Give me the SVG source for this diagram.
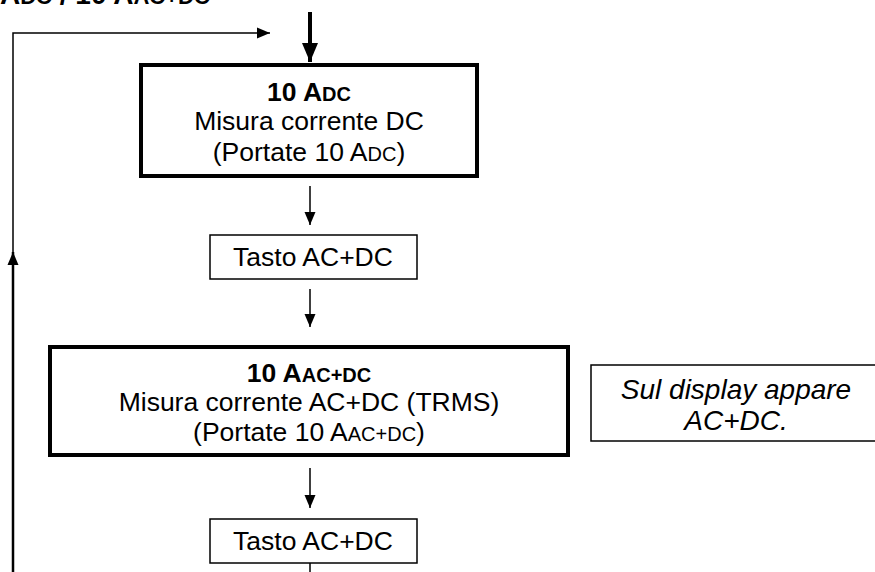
<svg xmlns="http://www.w3.org/2000/svg" width="875" height="572" viewBox="0 0 875 572">
<style>
text{font-family:"Liberation Sans",Arial,sans-serif;fill:#000;text-anchor:middle}
.t{font-size:26.5px}
.b{font-size:26.5px;font-weight:bold}
.i{font-size:28px;font-style:italic}
.sc{font-size:20px}
.thick{fill:#fff;stroke:#000;stroke-width:4}
.thin{fill:#fff;stroke:#000;stroke-width:1.5}
.ln{fill:none;stroke:#000;stroke-width:1.5}
</style>
<defs>
<marker id="ah" markerUnits="userSpaceOnUse" markerWidth="13" markerHeight="12" viewBox="0 0 13 12" refX="13" refY="6" orient="auto"><path d="M0,0.5 L13,6 L0,11.5 Z" fill="#000"/></marker>
<marker id="ahb" markerUnits="userSpaceOnUse" markerWidth="19" markerHeight="18" viewBox="0 0 19 18" refX="19" refY="9" orient="auto"><path d="M0,1 L19,9 L0,17 Z" fill="#000"/></marker>
</defs>
<text x="0" y="4" class="b" style="text-anchor:start;font-size:28px">A<tspan style="font-size:22px">DC</tspan> / 10 A<tspan style="font-size:22px">AC+DC</tspan></text>
<g id="connectors">
<polyline class="ln" points="13,265 13,33 270,33" marker-end="url(#ah)"/>
<line x1="13" y1="572" x2="13" y2="252" stroke="#000" stroke-width="2.5" marker-end="url(#ah)"/>
<line x1="310" y1="12" x2="310" y2="62" stroke="#000" stroke-width="4" marker-end="url(#ahb)"/>
<line class="ln" x1="310" y1="186" x2="310" y2="225" marker-end="url(#ah)"/>
<line class="ln" x1="310" y1="289" x2="310" y2="327" marker-end="url(#ah)"/>
<line class="ln" x1="310" y1="468" x2="310" y2="508" marker-end="url(#ah)"/>
<line class="ln" x1="310" y1="563" x2="310" y2="572"/>
</g>
<g id="n1">
<rect class="thick" x="141" y="65" width="336" height="111"/>
<text x="309" y="101" class="b">10 A<tspan class="sc">DC</tspan></text>
<text x="309" y="130" class="t">Misura corrente DC</text>
<text x="309" y="161" class="t">(Portate 10 A<tspan class="sc">DC</tspan>)</text>
</g>
<g id="n2">
<rect class="thin" x="210" y="235" width="207" height="44"/>
<text x="313" y="266" class="t">Tasto AC+DC</text>
</g>
<g id="n3">
<rect class="thick" x="50" y="347" width="518" height="108"/>
<text x="309" y="382" class="b">10 A<tspan class="sc">AC+DC</tspan></text>
<text x="309" y="411" class="t">Misura corrente AC+DC (TRMS)</text>
<text x="309" y="441" class="t">(Portate 10 A<tspan class="sc">AC+DC</tspan>)</text>
</g>
<g id="n4">
<rect class="thin" x="591" y="365" width="300" height="76"/>
<text x="736" y="399" class="i">Sul display appare</text>
<text x="736" y="430" class="i">AC+DC.</text>
</g>
<g id="n5">
<rect class="thin" x="210" y="519" width="207" height="44"/>
<text x="313" y="550" class="t">Tasto AC+DC</text>
</g>
</svg>
